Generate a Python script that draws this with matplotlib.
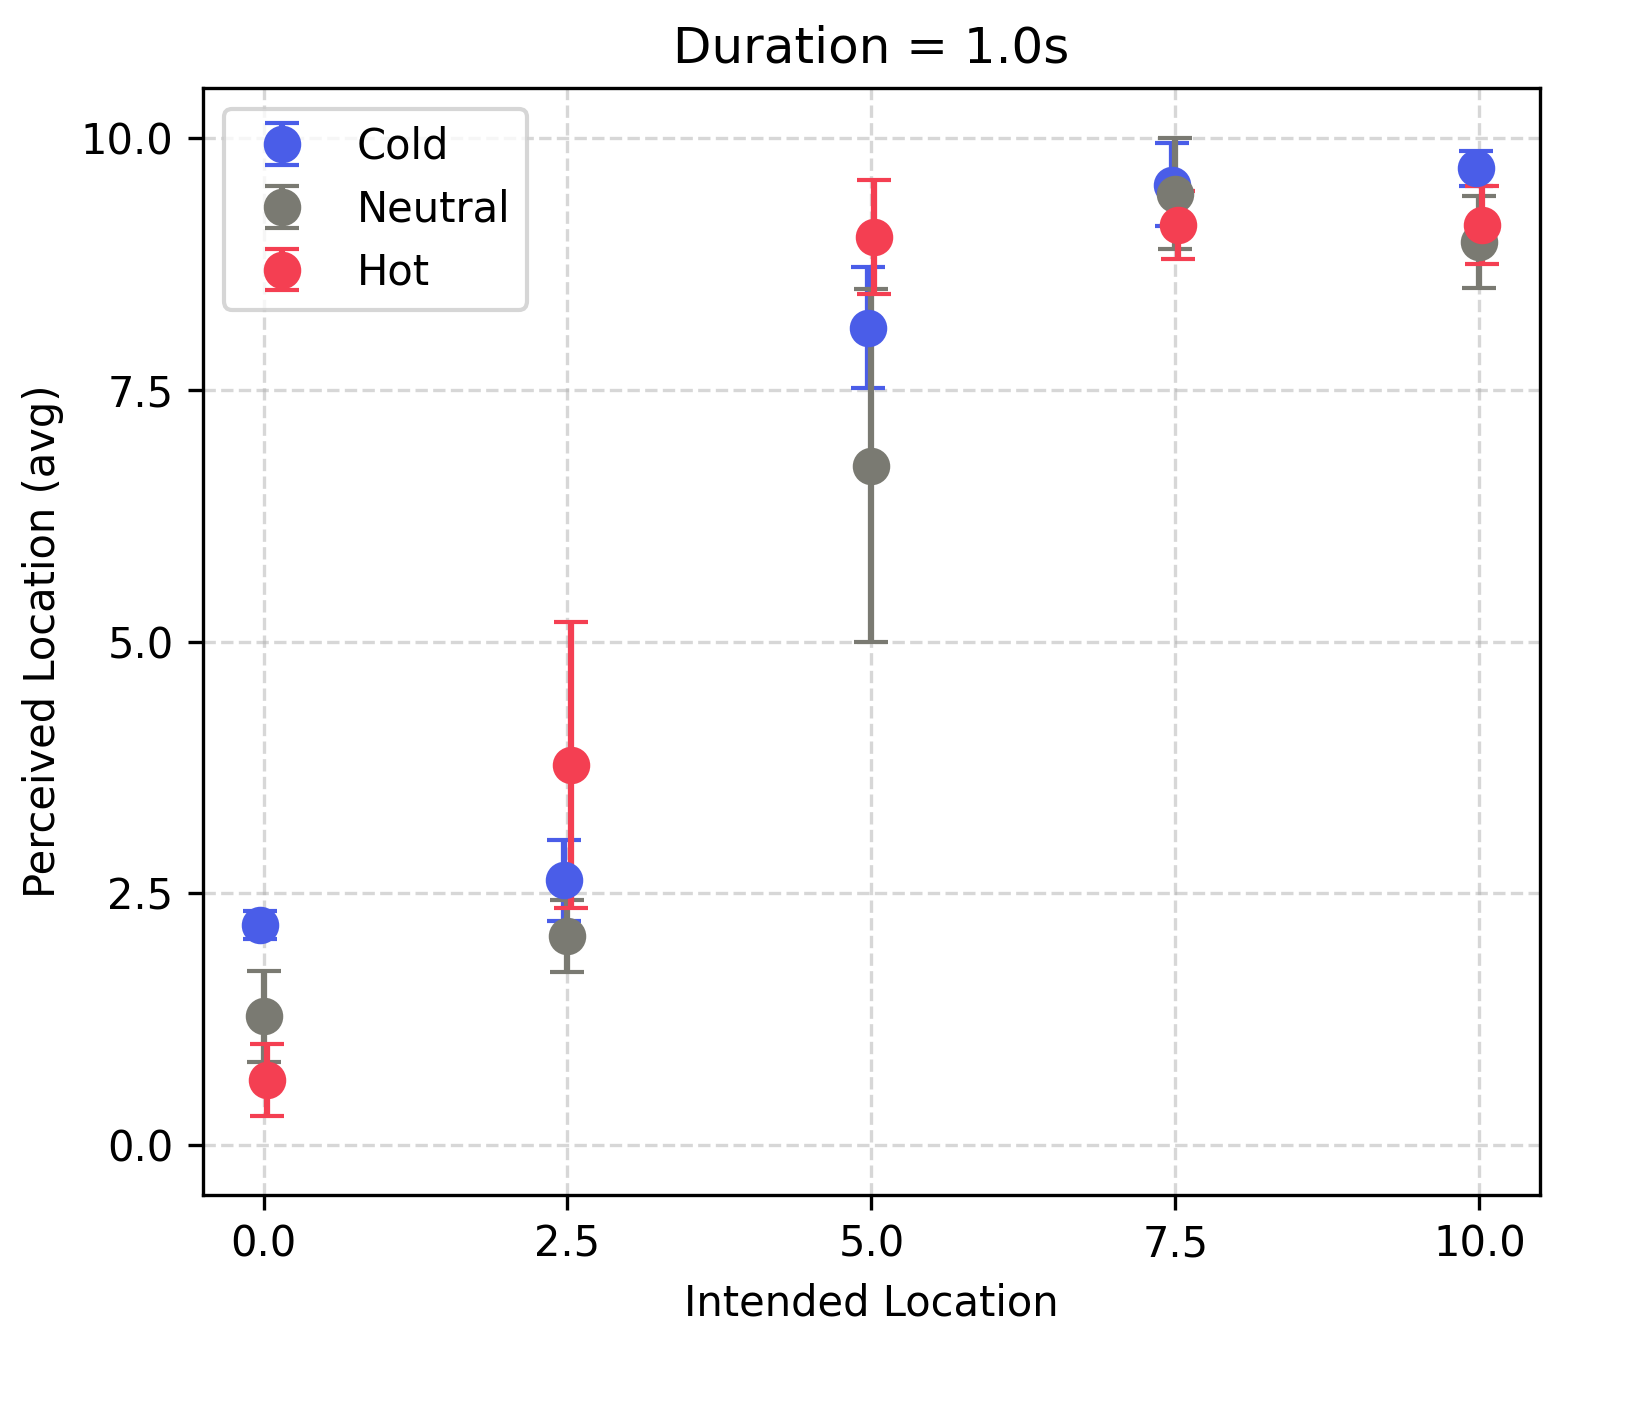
import matplotlib.pyplot as plt

locations = [0.0, 2.5, 5.0, 7.5, 10.0]
cold_mean = [2.19, 2.63, 8.12, 9.54, 9.70]
cold_err = [0.14, 0.40, 0.60, 0.41, 0.17]
neutral_mean = [1.28, 2.08, 6.75, 9.45, 8.97]
neutral_err = [0.45, 0.36, 1.75, 0.55, 0.46]
hot_mean = [0.65, 3.78, 9.02, 9.14, 9.14]
hot_err = [0.36, 1.42, 0.57, 0.34, 0.39]

series = [
    ("Cold", cold_mean, cold_err, "#4a5de8", -0.025),
    ("Neutral", neutral_mean, neutral_err, "#7a7a72", 0.0),
    ("Hot", hot_mean, hot_err, "#f43f52", 0.025),
]

fig, ax = plt.subplots(figsize=(5.45, 4.69), dpi=300)
for name, mean, err, color, off in series:
    ax.errorbar([x + off for x in locations], mean, yerr=err, fmt='o',
                color=color, markersize=8, capsize=4, elinewidth=1.5,
                label=name)

ax.set_title("Duration = 1.0s")
ax.set_xlabel("Intended Location")
ax.set_ylabel("Perceived Location (avg)")
ax.set_xticks(locations)
ax.set_yticks([0.0, 2.5, 5.0, 7.5, 10.0])
ax.set_xlim(-0.5, 10.5)
ax.set_ylim(-0.49, 10.5)
ax.grid(True, linestyle='--', alpha=0.5)
ax.legend(loc='upper left')
fig.subplots_adjust(left=0.124, right=0.942, top=0.9375, bottom=0.151)
plt.savefig("out.png")
